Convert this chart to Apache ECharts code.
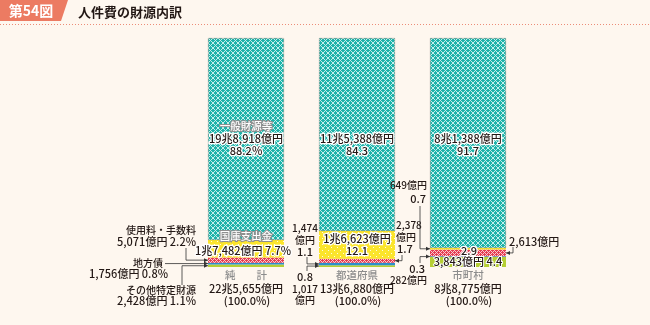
<!DOCTYPE html>
<html><head><meta charset="utf-8">
<script src="https://cdn.jsdelivr.net/npm/echarts@6/dist/echarts.min.js"></script>
<style>html,body{margin:0;padding:0;background:#fef7ef;}#main{width:650px;height:325px;}</style>
</head><body><div id="main"></div>
<script>
// ---- data (percent shares of each total) ----
const categories = ['純計', '都道府県', '市町村'];
const otherSpecific = [1.1, 0.8, 4.4];   // その他特定財源
const localBonds    = [0.8, 1.1, 0.3];   // 地方債
const fees          = [2.2, 1.7, 2.9];   // 使用料・手数料
const treasury      = [7.7, 12.1, 0.7];  // 国庫支出金
const general       = [88.2, 84.3, 91.7];// 一般財源等
const totalsText    = ['22兆5,655億円', '13兆6,880億円', '8兆8,775億円'];
const catNames      = ['純　　計', '都道府県', '市町村'];
const generalAmount = ['19兆8,918億円', '11兆5,388億円', '8兆1,388億円'];
const generalPct    = ['88.2%', '84.3', '91.7'];

const FONT = '"Noto Sans CJK JP", "Noto Sans", sans-serif';
const DARK = '#231815';
const GRAY = '#8c8c8c';
const BW = 76;

function tile(w, h, bg, fg, test) {
  const c = document.createElement('canvas'); c.width = w; c.height = h;
  const g = c.getContext('2d'); g.fillStyle = bg; g.fillRect(0, 0, w, h);
  g.fillStyle = fg;
  for (let y = 0; y < h; y++) for (let x = 0; x < w; x++) if (test(x, y)) g.fillRect(x, y, 1, 1);
  return c;
}
const tealTile = tile(5, 5, '#1db3aa', '#c4efeb', (x, y) => (x + y) % 5 === 0 || (x - y + 5) % 5 === 0);
const yellowTile = tile(6, 6, '#fbe52c', '#fffbe6', (x, y) => (x === 1 && y === 1) || (x === 4 && y === 4));
const redTile = tile(4, 4, '#e53c52', '#f8c6cc', (x, y) => (x + y) % 4 === 0 || (x - y + 4) % 4 === 0);

const stacks = [otherSpecific, localBonds, fees, treasury, general];
const names = ['その他特定財源', '地方債', '使用料・手数料', '国庫支出金', '一般財源等'];
const colors = ['#b6cf34', '#2b8fcc', { image: redTile, repeat: 'repeat' }, { image: yellowTile, repeat: 'repeat' }, { image: tealTile, repeat: 'repeat' }];

const chart = echarts.init(document.getElementById('main'), null, { renderer: 'canvas' });
chart.setOption({
  backgroundColor: '#fef7ef',
  animation: false,
  grid: { left: 190.5, right: 126.5, top: 38, bottom: 58 },
  xAxis: { type: 'category', data: categories, show: false },
  yAxis: { type: 'value', min: 0, max: 100, show: false },
  series: stacks.map((d, i) => ({
    name: names[i], type: 'bar', stack: 'total', barWidth: BW, silent: true,
    data: d,
    itemStyle: { color: colors[i], borderColor: i === 4 ? 'rgba(120,110,100,0.6)' : 'transparent', borderWidth: i === 4 ? 0.6 : 0 }
  }))
});

function px(ci, v) { return chart.convertToPixel({ gridIndex: 0 }, [ci, v]); }
function segMidY(ci, k) {
  let base = 0; for (let i = 0; i < k; i++) base += stacks[i][ci];
  return px(ci, base + stacks[k][ci] / 2)[1];
}
function edges(ci) { const x = px(ci, 0)[0]; return [x - BW / 2, x + BW / 2]; }

const G = [];
function txt(x, y, s, o) {
  o = o || {};
  const size = o.size || 11, align = o.align || 'center';
  const w = o.bold ? 'bold ' : (o.weight ? o.weight + ' ' : '500 ');
  const base = { x: x, y: y, text: s, font: w + size + 'px ' + FONT, textAlign: align, align: align, textVerticalAlign: 'middle', verticalAlign: 'middle' };
  if (o.halo) G.push({ type: 'text', silent: true, z: 10, style: Object.assign({}, base, { fill: o.halo, stroke: o.halo, lineWidth: o.haloW || 2.5, lineJoin: 'round' }) });
  G.push({ type: 'text', silent: true, z: 11, style: Object.assign({}, base, { fill: o.color || DARK }) });
}
function leader(pts, dir) {
  G.push({ type: 'polyline', silent: true, z: 12, shape: { points: pts }, style: { stroke: '#333', lineWidth: 0.8, fill: null } });
  const [x, y] = pts[pts.length - 1];
  const p = dir === 'right' ? [[x, y], [x - 4, y - 2], [x - 4, y + 2]] : [[x, y], [x + 4, y - 2], [x + 4, y + 2]];
  G.push({ type: 'polygon', silent: true, z: 12, shape: { points: p }, style: { fill: '#333' } });
}

// header
G.push({ type: 'polygon', silent: true, shape: { points: [[0, 0], [68, 0], [61, 21], [0, 21]] }, style: { fill: '#ec7b62' } });
txt(31, 11, '第54図', { size: 14, bold: true, color: '#fff' });
txt(78, 12, '人件費の財源内訳', { size: 13, bold: true, align: 'left' });
G.push({ type: 'line', silent: true, shape: { x1: 0, y1: 24.5, x2: 650, y2: 24.5 }, style: { stroke: '#ec8d78', lineWidth: 1, lineDash: [1, 2] } });

// in-bar labels
const cx = [0, 1, 2].map(i => px(i, 0)[0]);
txt(cx[0], 126, '一般財源等', { size: 10.5, color: '#fff', halo: '#8f8f8f', haloW: 2 });
for (let i = 0; i < 3; i++) {
  txt(cx[i], 138.5, generalAmount[i], { halo: '#fff' });
  txt(cx[i], 150.5, generalPct[i], { halo: '#fff' });
}
txt(cx[0], 236, '国庫支出金', { size: 10.5, color: '#fff', halo: '#8f8f8f', haloW: 2 });
txt(cx[0] - 3, 251, '1兆7,482億円 7.7%', { halo: '#fff' });
txt(cx[1], 239, '1兆6,623億円', { halo: '#fff' });
txt(cx[1], 251, '12.1', { halo: '#fff' });
txt(cx[2] + 1, 251, '2.9', { halo: '#fff' });
txt(cx[2], 262, '3,843億円 4.4', { halo: '#fff', haloW: 2 });

// left labels (純計)
txt(196, 230, '使用料・手数料', { size: 10, align: 'right' });
txt(196, 242, '5,071億円 2.2%', { align: 'right' });
txt(163, 263, '地方債', { size: 10, align: 'right' });
txt(168, 274, '1,756億円 0.8%', { align: 'right' });
txt(196, 290, 'その他特定財源', { size: 10, align: 'right' });
txt(196, 301, '2,428億円 1.1%', { align: 'right' });

// bottom labels
for (let i = 0; i < 3; i++) {
  txt(cx[i], 275.5, catNames[i], { size: 10.5, color: GRAY });
  txt(cx[i], 288.5, totalsText[i]);
  txt(cx[i] + 1, 300.5, '(100.0%)');
}

// 都道府県 side labels
txt(305, 228, '1,474', { size: 10 });
txt(305, 240, '億円', { size: 10 });
txt(305, 251.5, '1.1');
txt(305, 277, '0.8');
txt(305, 289, '1,017', { size: 10 });
txt(305, 300.5, '億円', { size: 10 });
txt(396, 225, '2,378', { size: 10, align: 'left' });
txt(396, 237, '億円', { size: 10, align: 'left' });
txt(397, 249, '1.7', { align: 'left' });
// 市町村 side labels
txt(427, 185, '649億円', { size: 10, align: 'right' });
txt(426, 199, '0.7', { align: 'right' });
txt(425, 269, '0.3', { align: 'right' });
txt(427, 280.5, '282億円', { size: 10, align: 'right' });
txt(509, 242, '2,613億円', { size: 11, align: 'left' });

// leader lines computed from the bar scale
const e0 = edges(0), e1 = edges(1), e2 = edges(2);
let y;
y = segMidY(0, 2); leader([[186, 248], [186, y], [e0[0], y]], 'right');
y = segMidY(0, 1); leader([[165, y], [e0[0], y]], 'right');
y = segMidY(0, 0); leader([[182, 285], [182, y], [e0[0], y]], 'right');
y = segMidY(1, 1); leader([[307, 257], [307, y], [e1[0], y]], 'right');
y = segMidY(1, 0); leader([[307, 271], [307, y], [e1[0], y]], 'right');
y = segMidY(1, 2); leader([[402, 255], [402, y], [e1[1], y]], 'left');
y = segMidY(2, 3); leader([[420, 206], [420, y], [e2[0], y]], 'right');
y = segMidY(2, 1); leader([[420, 263], [420, y], [e2[0], y]], 'right');
y = segMidY(2, 2); leader([[513, 247], [513, y], [e2[1], y]], 'left');

chart.setOption({ graphic: { elements: G } });
</script></body></html>
